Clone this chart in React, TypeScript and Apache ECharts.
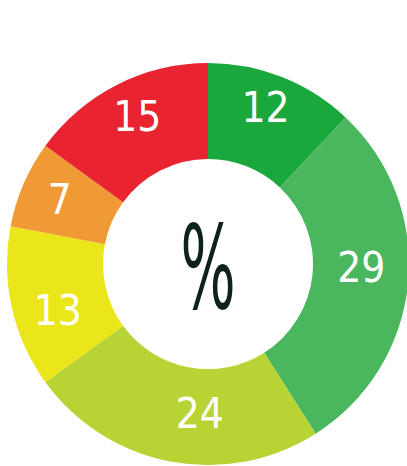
import React, { useEffect, useRef } from "react";
import * as echarts from "echarts";

const categories = ["A", "B", "C", "D", "E", "F"];
const values = [12, 29, 24, 13, 7, 15];
const colors = ["#1aa73c", "#4ab75e", "#b8d334", "#ebe619", "#f09a35", "#ea2330"];
const labelOffsets = [[0, -11], [-2, -11], [21, -4], [2, 12], [-5, -3], [0, -9]];
const centerText = "%";

export default function App() {
  const ref = useRef<HTMLDivElement>(null);
  useEffect(() => {
    if (!ref.current) return;
    const chart = echarts.init(ref.current, undefined, { renderer: "svg" });
    chart.setOption({
      animation: false,
      backgroundColor: "#ffffff",
      series: [
        {
          type: "pie",
          center: [208, 264],
          radius: [105, 201],
          startAngle: 90,
          clockwise: true,
          silent: true,
          data: categories.map((c, i) => ({
            name: c,
            value: values[i],
            itemStyle: { color: colors[i] },
            label: { offset: labelOffsets[i] },
          })),
          label: {
            show: true,
            position: "inside",
            formatter: "{c}",
            color: "#ffffff",
            fontFamily: "'DejaVu Sans Condensed', 'Liberation Sans Narrow', sans-serif",
            fontWeight: "condensed",
            fontSize: 42,
          },
          labelLine: { show: false },
        },
      ],
      graphic: [
        {
          type: "text",
          x: 208,
          y: 268,
          scaleX: 0.5,
          style: {
            text: centerText,
            fill: "#0d2318",
            font: "116px 'DejaVu Sans', sans-serif",
            textAlign: "center",
            textVerticalAlign: "middle",
          },
        },
      ],
    });
    return () => chart.dispose();
  }, []);
  return (
    <div
      ref={ref}
      style={{ position: "fixed", left: 0, top: 0, width: 407, height: 466 }}
    />
  );
}
